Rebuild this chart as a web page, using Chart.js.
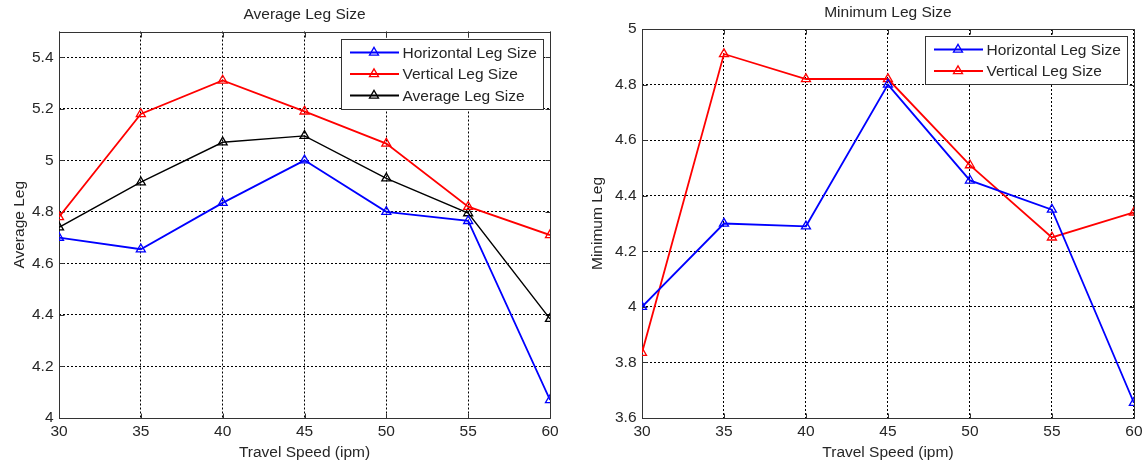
<!DOCTYPE html>
<html>
<head>
<meta charset="utf-8">
<script src="https://cdn.jsdelivr.net/npm/chart.js@4.4.0/dist/chart.umd.min.js"></script>
<style>
    body { margin: 0; background: #fff; }
    canvas { position: absolute; top: 0; }
</style>
</head>
<body>
<canvas id="avg-chart" width="575" height="466" style="left:0"></canvas>
<canvas id="min-chart" width="572" height="466" style="left:575px"></canvas>
<script>
const speeds = [30, 35, 40, 45, 50, 55, 60];
const avgHorizontal = [4.70, 4.655, 4.835, 5.00, 4.80, 4.765, 4.07];
const avgVertical = [4.78, 5.18, 5.31, 5.19, 5.065, 4.82, 4.71];
const avgAverage = [4.74, 4.915, 5.07, 5.095, 4.93, 4.795, 4.385];
const minHorizontal = [4.00, 4.30, 4.29, 4.80, 4.455, 4.35, 3.655];
const minVertical = [3.835, 4.91, 4.82, 4.82, 4.51, 4.25, 4.34];
const xTicks = [30, 35, 40, 45, 50, 55, 60];
const avgYTicks = [4, 4.2, 4.4, 4.6, 4.8, 5, 5.2, 5.4];
const minYTicks = [3.6, 3.8, 4, 4.2, 4.4, 4.6, 4.8, 5];

const FONT = 'Arial, "Liberation Sans", Helvetica, sans-serif';
const FSIZE = 15.5;
const TEXT = '#262626';

function series(label, values, color, width) {
    return {
        label,
        data: speeds.map((x, i) => ({ x, y: values[i] })),
        borderColor: color,
        borderWidth: width,
        pointStyle: 'triangle',
        pointRadius: 5.2,
        pointBorderColor: color,
        pointBorderWidth: 1.3,
        pointBackgroundColor: 'rgba(0,0,0,0)',
        tension: 0
    };
}

// axes box + inner tick marks
const frame = {
    id: 'frame',
    beforeDatasetsDraw(chart) {
        const { ctx, chartArea: a, scales } = chart;
        const l = Math.round(a.left) + 0.5, r = Math.round(a.right) + 0.5;
        const t = Math.round(a.top) + 0.5, b = Math.round(a.bottom) + 0.5;
        ctx.save();
        ctx.strokeStyle = '#333';
        ctx.lineWidth = 1;
        ctx.beginPath();
        scales.x.ticks.forEach(tk => {
            const px = Math.round(scales.x.getPixelForValue(tk.value)) + 0.5;
            ctx.moveTo(px, b); ctx.lineTo(px, b - 5);
            ctx.moveTo(px, t); ctx.lineTo(px, t + 5);
        });
        scales.y.ticks.forEach(tk => {
            const py = Math.round(scales.y.getPixelForValue(tk.value)) + 0.5;
            ctx.moveTo(l, py); ctx.lineTo(l + 5, py);
            ctx.moveTo(r, py); ctx.lineTo(r - 5, py);
        });
        ctx.moveTo(l, t); ctx.lineTo(r, t);
        ctx.lineTo(r, b); ctx.lineTo(l, b);
        ctx.closePath();
        ctx.stroke();
        ctx.restore();
    }
};

// legend box in the upper right corner of the plot area
const boxLegend = {
    id: 'boxLegend',
    afterDraw(chart) {
        const { ctx, chartArea: a } = chart;
        const sets = chart.data.datasets;
        ctx.save();
        ctx.font = FSIZE + 'px ' + FONT;
        const textW = Math.max(...sets.map(d => ctx.measureText(d.label).width));
        const w = Math.round(61.5 + textW + 6);
        const h = Math.round(21.5 * (sets.length - 1) + 26.5);
        const left = Math.round(a.right - 7 - w);
        const top = Math.round(a.top + 7);
        ctx.fillStyle = '#fff';
        ctx.fillRect(left, top, w, h);
        ctx.strokeStyle = '#333';
        ctx.lineWidth = 1;
        ctx.strokeRect(left + 0.5, top + 0.5, w, h);
        sets.forEach((d, i) => {
            const y = top + 13.5 + i * 21.5;
            ctx.strokeStyle = d.borderColor;
            ctx.lineWidth = 2;
            ctx.beginPath();
            ctx.moveTo(left + 9, y);
            ctx.lineTo(left + 58, y);
            ctx.stroke();
            ctx.lineWidth = 1.3;
            ctx.beginPath();
            const r = 5.2, cx = left + 33;
            ctx.moveTo(cx, y - r);
            ctx.lineTo(cx + r * Math.sin(2 * Math.PI / 3), y + r / 2);
            ctx.lineTo(cx - r * Math.sin(2 * Math.PI / 3), y + r / 2);
            ctx.closePath();
            ctx.stroke();
            ctx.fillStyle = TEXT;
            ctx.textBaseline = 'middle';
            ctx.fillText(d.label, left + 61.5, y + 1);
        });
        ctx.restore();
    }
};

function makeChart(id, opts) {
    return new Chart(document.getElementById(id), {
        type: 'line',
        data: { datasets: opts.datasets },
        options: {
            responsive: false,
            animation: false,
            layout: { padding: { left: 0, right: opts.padRight, top: 0, bottom: 0 } },
            plugins: {
                legend: { display: false },
                tooltip: { enabled: false },
                title: {
                    display: true,
                    text: opts.title,
                    fullSize: false,
                    color: TEXT,
                    font: { family: FONT, size: FSIZE, weight: 'normal' },
                    padding: opts.titlePad
                }
            },
            scales: {
                x: {
                    type: 'linear',
                    min: 30,
                    max: 60,
                    afterBuildTicks: s => { s.ticks = xTicks.map(v => ({ value: v })); },
                    afterFit: s => { s.height = 48; },
                    grid: { color: '#000', lineWidth: 1, drawTicks: false },
                    border: { display: false, dash: [2, 2] },
                    ticks: { color: TEXT, padding: 4.5, maxRotation: 0, font: { family: FONT, size: FSIZE } },
                    title: {
                        display: true,
                        text: 'Travel Speed (ipm)',
                        color: TEXT,
                        font: { family: FONT, size: FSIZE },
                        padding: { top: 0, bottom: 4 }
                    }
                },
                y: {
                    min: opts.yMin,
                    max: opts.yMax,
                    afterBuildTicks: s => { s.ticks = opts.yTicks.map(v => ({ value: v })); },
                    afterFit: s => { s.width = opts.yWidth; },
                    grid: { color: '#000', lineWidth: 1, drawTicks: false },
                    border: { display: false, dash: [2, 2] },
                    ticks: {
                        color: TEXT,
                        padding: 5.5,
                        font: { family: FONT, size: FSIZE },
                        callback: v => String(Math.round(v * 10) / 10)
                    },
                    title: {
                        display: true,
                        text: opts.yTitle,
                        color: TEXT,
                        font: { family: FONT, size: FSIZE },
                        padding: { top: opts.yTitlePad, bottom: 0 }
                    }
                }
            }
        },
        plugins: [frame, boxLegend]
    });
}

makeChart('avg-chart', {
    title: 'Average Leg Size',
    titlePad: { top: 5.7, bottom: 7.2 },
    yTitle: 'Average Leg',
    yTitlePad: 10,
    yMin: 4,
    yMax: 5.5,
    yTicks: avgYTicks,
    yWidth: 59,
    padRight: 25,
    datasets: [
        series('Horizontal Leg Size', avgHorizontal, '#0000ff', 1.8),
        series('Vertical Leg Size', avgVertical, '#ff0000', 1.8),
        series('Average Leg Size', avgAverage, '#000000', 1.4)
    ]
});

makeChart('min-chart', {
    title: 'Minimum Leg Size',
    titlePad: { top: 3, bottom: 7.4 },
    yTitle: 'Minimum Leg',
    yTitlePad: 13.3,
    yMin: 3.6,
    yMax: 5,
    yTicks: minYTicks,
    yWidth: 67,
    padRight: 12,
    datasets: [
        series('Horizontal Leg Size', minHorizontal, '#0000ff', 1.8),
        series('Vertical Leg Size', minVertical, '#ff0000', 1.8)
    ]
});
</script>
</body>
</html>
